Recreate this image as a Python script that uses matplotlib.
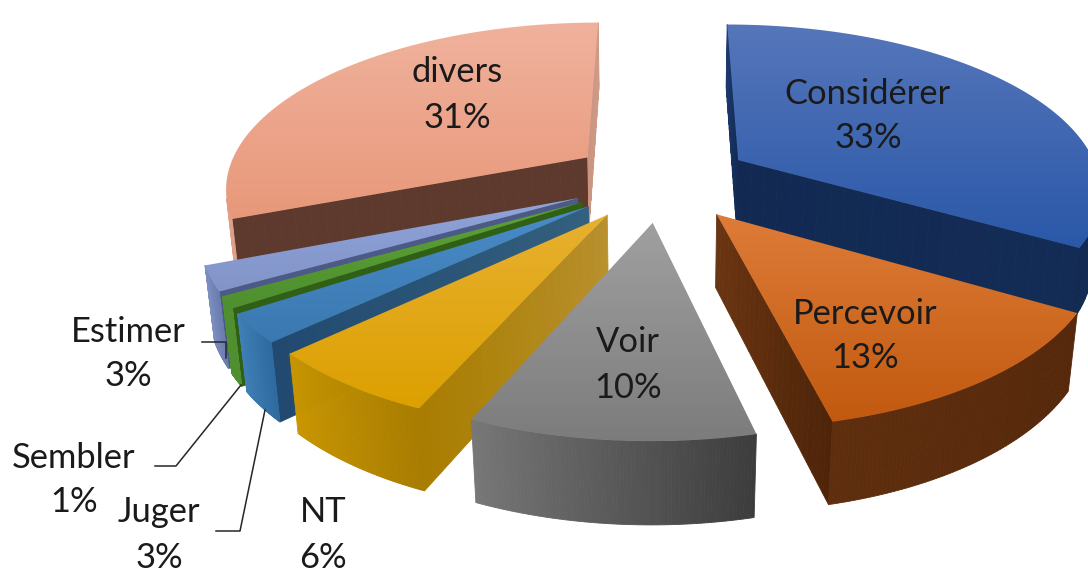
"""
Exploded 3D pie chart (verbs share), drawn by projecting each slice by hand.
"""
import numpy as np
import matplotlib
matplotlib.use("Agg")
import matplotlib.pyplot as plt
from matplotlib.colors import to_rgb, LinearSegmentedColormap
from matplotlib.patches import Polygon

labels = ["Considérer", "Percevoir", "Voir", "NT", "Juger", "Sembler", "Estimer", "divers"]
percent_labels = [33, 13, 10, 6, 3, 1, 3, 31]
# unrounded shares as read from the slice edges
shares = [33.5, 12.8, 10.2, 6.4, 2.7, 1.1, 2.3, 31.0]

# (top of surface, bottom of surface)
top_colors = [("#5676ba", "#2a58a8"), ("#dd7c38", "#c2590f"), ("#a0a0a0", "#7c7c7c"),
              ("#e8b030", "#dca000"), ("#4a8cc8", "#3a78b0"), ("#5ea235", "#4f8f2f"),
              ("#90a4da", "#8294c8"), ("#f0b29d", "#e8987a")]
# outer wall: clockwise start, clockwise end
wall_colors = [("#132c56", "#122a52"), ("#55270a", "#5e2e0e"), ("#3c3c3c", "#777777"),
               ("#a87c00", "#c99600"), ("#2e6a9e", "#3f7fb5"), ("#4f8f2f", "#4f8f2f"),
               ("#6a7cae", "#7d8fc0"), ("#e0a088", "#e0a088")]
# radial faces: apex, rim
start_colors = [("#122a52", "#1c3a70"), ("#6b3512", "#4e2409"), ("#555555", "#555555"),
                ("#b8902e", "#a97d00"), ("#34607f", "#224a70"), ("#2f6016", "#2f6016"),
                ("#4c5a88", "#4c5a88"), ("#5e3a2e", "#5e3a2e")]
end_colors = [("#122a52", "#132c56"), ("#6b3512", "#4e2409"), ("#555555", "#555555"),
              ("#b8902e", "#a97d00"), ("#34607f", "#224a70"), ("#2f6016", "#2f6016"),
              ("#4c5a88", "#4c5a88"), ("#c99480", "#d09c88")]

# label text centres and leader lines, in pixels
label_pos = [(868, 116), (865, 336), (628, 365), (323, 535), (159, 535), (74, 480), (128, 354), (457, 95)]
leaders = [([202, 226, 226], [342, 342, 358]),
           ([155, 176, 241], [466, 466, 385]),
           ([216, 240, 265], [531, 531, 410])]

# camera
CX, CY = 661, 180
F, D = 1905, 5.25
TILT = np.radians(27)
EXPLODE = 0.25
HEIGHT = 0.225


def project(x, y, z):
    depth = D + y * np.cos(TILT) - z * np.sin(TILT)
    up = y * np.sin(TILT) + z * np.cos(TILT)
    return CX + F * x / depth, CY - F * up / depth


def area(pts):
    xs, ys = np.array(pts).T
    return np.sum(xs * np.roll(ys, -1) - np.roll(xs, -1) * ys)


def wall(ax, path_xy, c0, c1, z):
    # path_xy runs clockwise seen from above; faces turned away are skipped
    c0, c1 = np.array(to_rgb(c0)), np.array(to_rgb(c1))
    n = len(path_xy) - 1
    for i in range(n):
        (xa, ya), (xb, yb) = path_xy[i], path_xy[i + 1]
        quad = [project(xa, ya, 0), project(xb, yb, 0), project(xb, yb, -HEIGHT), project(xa, ya, -HEIGHT)]
        if area(quad) < 0:
            col = c0 + (c1 - c0) * (i + 0.5) / n
            ax.add_patch(Polygon(quad, closed=True, fc=col, ec=col, lw=0.6, zorder=z))


fig = plt.figure(figsize=(10.88, 5.76), dpi=100)
ax = fig.add_axes([0, 0, 1, 1])

fractions = np.array(shares) / sum(shares)
starts = 2 * np.pi * np.concatenate([[0], np.cumsum(fractions)[:-1]])
ends = starts + 2 * np.pi * fractions
mids = (starts + ends) / 2

# back slices first
order = np.argsort(-np.cos(mids))
for rank, i in enumerate(order):
    ox, oy = EXPLODE * np.sin(mids[i]), EXPLODE * np.cos(mids[i])
    th = np.linspace(starts[i], ends[i], 80)
    rim = [(ox + np.sin(t), oy + np.cos(t)) for t in th]
    apex = (ox, oy)
    z = 2 + rank * 3

    s = np.linspace(0, 1, 25)
    start_edge = [(apex[0] + (rim[0][0] - apex[0]) * u, apex[1] + (rim[0][1] - apex[1]) * u) for u in s]
    end_edge = [(rim[-1][0] + (apex[0] - rim[-1][0]) * u, rim[-1][1] + (apex[1] - rim[-1][1]) * u) for u in s]

    wall(ax, start_edge, start_colors[i][0], start_colors[i][1], z)
    wall(ax, end_edge, end_colors[i][1], end_colors[i][0], z)
    wall(ax, rim, wall_colors[i][0], wall_colors[i][1], z)

    # top surface: vertical gradient clipped to the slice outline
    outline = [project(*apex, 0)] + [project(px, py, 0) for px, py in rim]
    xs, ys = np.array(outline).T
    cmap = LinearSegmentedColormap.from_list("g", top_colors[i])
    im = ax.imshow(np.linspace(0, 1, 256).reshape(-1, 1), cmap=cmap, aspect="auto",
                   extent=(xs.min(), xs.max(), ys.max(), ys.min()), zorder=z + 1)
    clip = Polygon(outline, closed=True, transform=ax.transData, fc="none", ec="none")
    ax.add_patch(clip)
    im.set_clip_path(clip)

for lx, ly in leaders:
    ax.plot(lx, ly, color="#262626", lw=1.1, zorder=40)

for i, name in enumerate(labels):
    ax.text(label_pos[i][0], label_pos[i][1], f"{name}\n{percent_labels[i]}%", ha="center", va="center",
            family="Lato", fontsize=24.8, color="#1a1a1a", linespacing=1.5, zorder=50)

ax.set_xlim(0, 1088)
ax.set_ylim(576, 0)
ax.axis("off")
fig.savefig("out.png", dpi=100)
